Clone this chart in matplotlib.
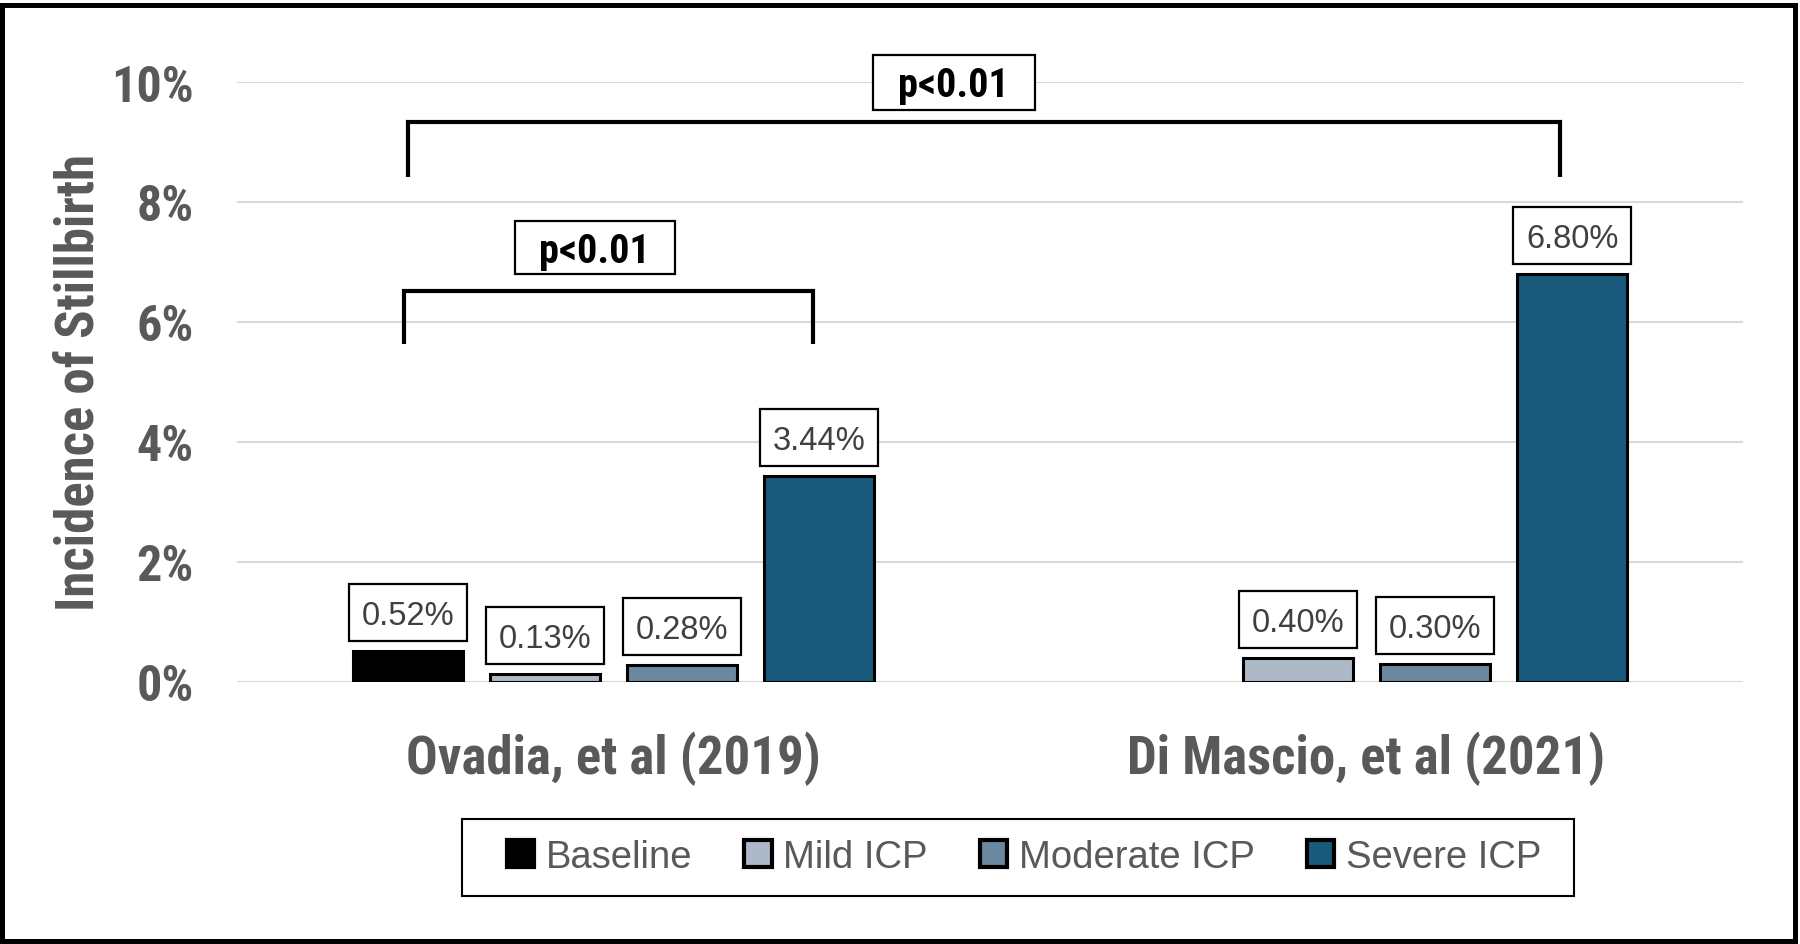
import matplotlib
matplotlib.use('Agg')
import matplotlib.pyplot as plt
import matplotlib.patches as mpatches
import matplotlib.transforms as mtransforms
import numpy as np

# data
studies = ['Ovadia, et al (2019)', 'Di Mascio, et al (2021)']
groups = ['Baseline', 'Mild ICP', 'Moderate ICP', 'Severe ICP']
baseline = [0.52, np.nan]
mild = [0.13, 0.40]
moderate = [0.28, 0.30]
severe = [3.44, 6.80]
yticks = [0, 2, 4, 6, 8, 10]
p_text = 'p<0.01'

colors = ['#000000', '#adb9c7', '#6a88a0', '#175a7c']
grey = '#595959'
narrow = ['Roboto Condensed', 'Liberation Sans', 'DejaVu Sans']
plain = ['Liberation Sans', 'DejaVu Sans']

fig = plt.figure(figsize=(18, 9.45), dpi=100)
ax = fig.add_axes([237/1800, 1-683/945, 1506/1800, 600/945])

x = np.arange(len(studies))
step = 0.182
width = 0.146
series = [baseline, mild, moderate, severe]
for i, (vals, name, col) in enumerate(zip(series, groups, colors)):
    ax.bar(x + (i - 1.5) * step, vals, width, color=col, edgecolor='black',
           linewidth=2.2, label=name, zorder=3)

ax.set_xlim(-0.5, 1.5)
ax.set_ylim(0, 10)
ax.set_axisbelow(True)
ax.yaxis.grid(True, color='#d9d9d9', linewidth=1.5)
for s in ax.spines.values():
    s.set_visible(False)

ax.set_yticks(yticks, labels=[f'{t}%' for t in yticks])
ax.set_xticks(x, labels=studies)
ax.tick_params(axis='y', length=0, pad=31, labelcolor=grey)
ax.tick_params(axis='x', length=0, pad=35, labelcolor=grey)
for lab in ax.get_yticklabels():
    lab.set_fontfamily(narrow); lab.set_fontweight('bold'); lab.set_fontsize(36)
for lab in ax.get_xticklabels():
    lab.set_fontfamily(narrow); lab.set_fontweight('bold'); lab.set_fontsize(38)

fig.text(79/1800, 1-383/945, 'Incidence of Stillbirth', rotation=90, ha='center', va='center',
         fontsize=38, fontweight='bold', color=grey, family=narrow)


def boxed(xd, yd, text, w, h, dy, size, weight, color, family):
    # box of w x h inches, centred dy inches above the data point
    tr = fig.dpi_scale_trans + mtransforms.ScaledTranslation(xd, yd, ax.transData)
    rect = mpatches.Rectangle((-w/2, dy - h/2), w, h, transform=tr, facecolor='white',
                              edgecolor='black', linewidth=1.6, clip_on=False, zorder=5)
    ax.add_artist(rect)
    cap = 0.716 * size / 72
    ax.text(0, dy - cap/2, text, transform=tr, ha='center', va='baseline', fontsize=size,
            fontweight=weight, color=color, family=family, zorder=6, clip_on=False)


# value labels
for i, vals in enumerate(series):
    for j, v in enumerate(vals):
        if np.isnan(v):
            continue
        boxed(x[j] + (i - 1.5) * step, v, f'{v:.2f}%', 1.18, 0.57, 0.10 + 0.285,
              23.5, 'normal', '#404040', plain)

# significance brackets
ax.plot([-0.273, -0.273, 1.257, 1.257], [8.42, 9.33, 9.33, 8.42], color='black', lw=3,
        solid_joinstyle='miter', solid_capstyle='butt', clip_on=False, zorder=4)
ax.plot([-0.278, -0.278, 0.265, 0.265], [5.63, 6.52, 6.52, 5.63], color='black', lw=3,
        solid_joinstyle='miter', solid_capstyle='butt', clip_on=False, zorder=4)
boxed(0.452, 10.0, p_text, 1.62, 0.55, 0, 29, 'bold', 'black', narrow)
boxed(-0.025, 7.24, p_text, 1.60, 0.53, 0, 29, 'bold', 'black', narrow)

# legend
handles, labels = ax.get_legend_handles_labels()
leg = fig.legend(handles, labels, loc='center', bbox_to_anchor=(1024/1800, 1-858/945), ncol=4,
                 frameon=False, prop={'family': plain, 'size': 27.5}, handlelength=0.71,
                 handleheight=0.68, handletextpad=0.31, columnspacing=1.36)
for t in leg.get_texts():
    t.set_color(grey)
for h in leg.legend_handles:
    h.set_linewidth(3)
fig.add_artist(mpatches.Rectangle((462/1800, 1-897/945), 1112/1800, 77/945, transform=fig.transFigure,
                                  facecolor='none', edgecolor='black', linewidth=1.5))

# outer frame
fig.add_artist(mpatches.Rectangle((2/1800, 3/945), 1792.5/1800, 936.5/945, transform=fig.transFigure,
                                  facecolor='none', edgecolor='black', linewidth=3.6))

fig.savefig('out.png', dpi=100)
